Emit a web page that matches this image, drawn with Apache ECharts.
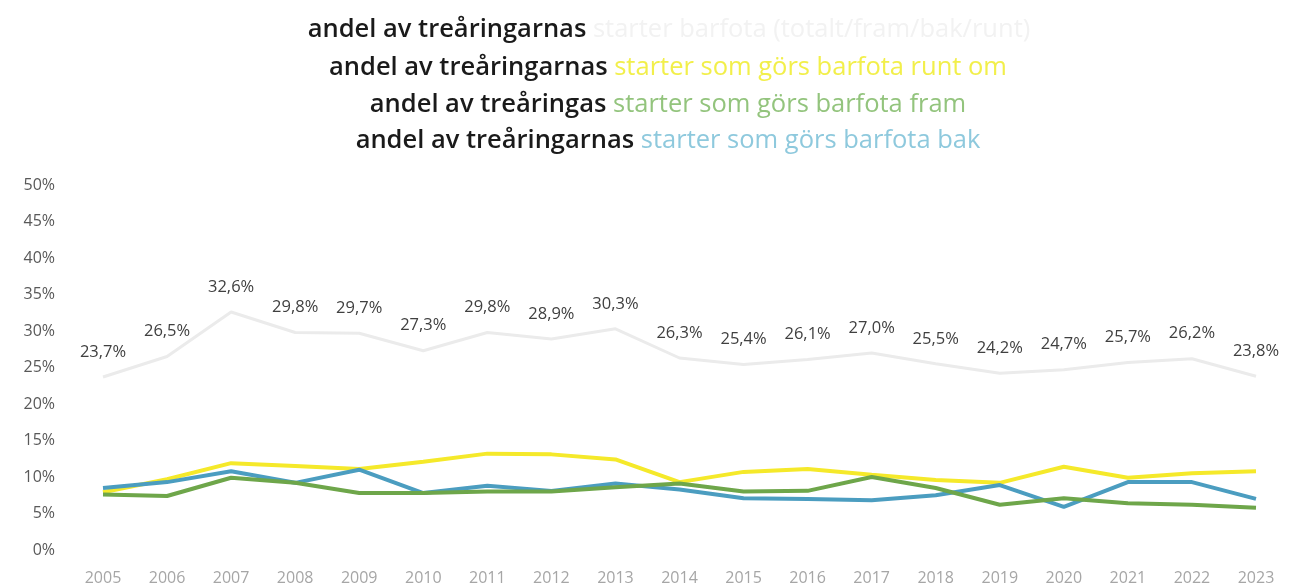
<!DOCTYPE html>
<html>
<head>
<meta charset="utf-8">
<script src="https://cdn.jsdelivr.net/npm/echarts@6/dist/echarts.min.js"></script>
<style>
  html, body { margin: 0; padding: 0; background: #fff; }
  #chart { width: 1289px; height: 587px; }
</style>
</head>
<body>
<div id="chart"></div>
<script>
const years = ['2005','2006','2007','2008','2009','2010','2011','2012','2013','2014','2015','2016','2017','2018','2019','2020','2021','2022','2023'];
// totalt (labelled)
const totalt = [23.7, 26.5, 32.6, 29.8, 29.7, 27.3, 29.8, 28.9, 30.3, 26.3, 25.4, 26.1, 27.0, 25.5, 24.2, 24.7, 25.7, 26.2, 23.8];
// runt om (yellow)
const runtOm = [7.9, 9.7, 11.9, 11.5, 11.1, 12.1, 13.2, 13.1, 12.4, 9.3, 10.7, 11.1, 10.3, 9.6, 9.2, 11.4, 9.9, 10.5, 10.8];
// fram (green)
const fram = [7.6, 7.4, 9.9, 9.2, 7.8, 7.8, 8.0, 8.0, 8.6, 9.1, 8.0, 8.1, 10.0, 8.5, 6.2, 7.1, 6.4, 6.2, 5.8];
// bak (blue)
const bak = [8.5, 9.3, 10.8, 9.2, 11.0, 7.8, 8.8, 8.1, 9.1, 8.3, 7.1, 7.0, 6.8, 7.5, 8.9, 5.9, 9.3, 9.3, 7.0];

const titleLines = [
  ['andel av treåringarnas ', 'starter barfota (totalt/fram/bak/runt)', 'g'],
  ['andel av treåringarnas ', 'starter som görs barfota runt om', 'y'],
  ['andel av treåringas ', 'starter som görs barfota fram', 'gr'],
  ['andel av treåringarnas ', 'starter som görs barfota bak', 'b']
];
const titleTops = [12, 50, 87, 123];
const titleLeft = [664, 663, 663, 663];

const chart = echarts.init(document.getElementById('chart'));
const fontFam = '"Open Sans", "Noto Sans", sans-serif';

const titles = titleLines.map((t, i) => ({
  text: '{k|' + t[0] + '}{' + t[2] + '|' + t[1] + '}',
  left: titleLeft[i],
  top: titleTops[i],
  textAlign: 'center',
  textStyle: {
    rich: {
      k:  { fontFamily: fontFam, fontSize: 25.5, fontWeight: 600, color: '#1a1a1a' },
      g:  { fontFamily: fontFam, fontSize: 25.5, fontWeight: 'normal', color: '#f2f2f2' },
      y:  { fontFamily: fontFam, fontSize: 25.5, fontWeight: 'normal', color: '#f2ef4a' },
      gr: { fontFamily: fontFam, fontSize: 25.5, fontWeight: 'normal', color: '#93c47d' },
      b:  { fontFamily: fontFam, fontSize: 25.5, fontWeight: 'normal', color: '#8ec9dd' }
    }
  }
}));

const option = {
  animation: false,
  title: titles,
  grid: { left: 103, right: 33, top: 185, bottom: 37, containLabel: false },
  xAxis: {
    type: 'category',
    data: years,
    boundaryGap: false,
    axisLine: { show: false },
    axisTick: { show: false },
    axisLabel: { color: '#a6a6a6', fontSize: 16, fontFamily: fontFam, margin: 20 }
  },
  yAxis: {
    type: 'value',
    min: 0,
    max: 50,
    interval: 5,
    splitLine: { show: false },
    axisLabel: {
      color: '#595959', fontSize: 16, fontFamily: fontFam, margin: 48,
      formatter: v => v + '%'
    }
  },
  series: [
    {
      name: 'totalt', type: 'line', data: totalt,
      symbol: 'circle', symbolSize: 1, showSymbol: true,
      lineStyle: { color: '#ebebeb', width: 3 },
      itemStyle: { color: 'rgba(235,235,235,0)' },
      label: {
        show: true, position: 'top', distance: 16,
        color: '#404040', fontSize: 16.5, fontFamily: fontFam,
        formatter: p => p.value.toFixed(1).replace('.', ',') + '%'
      }
    },
    { name: 'runt om', type: 'line', data: runtOm, symbol: 'none', lineStyle: { color: '#f5e92a', width: 4 } },
    { name: 'bak', type: 'line', data: bak, symbol: 'none', lineStyle: { color: '#4b9dc0', width: 4 } },
    { name: 'fram', type: 'line', data: fram, symbol: 'none', lineStyle: { color: '#6ea64a', width: 4 } }
  ]
};
chart.setOption(option);
</script>
</body>
</html>
